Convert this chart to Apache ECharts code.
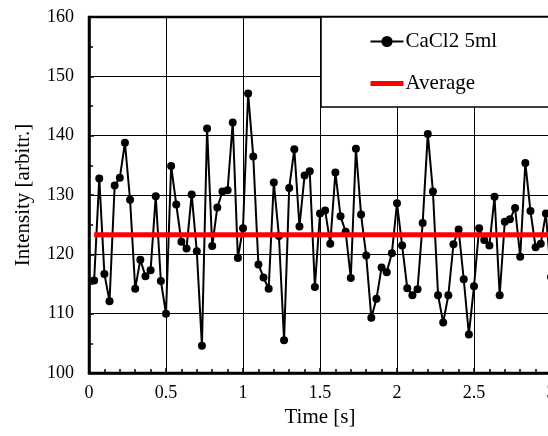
<!DOCTYPE html>
<html>
<head>
<meta charset="utf-8">
<script src="https://cdn.jsdelivr.net/npm/echarts@6/dist/echarts.min.js"></script>
<style>
html,body{margin:0;padding:0;background:#fff;}
#chart{width:548px;height:436px;}
</style>
</head>
<body>
<div id="chart"></div>
<script>
var seriesName = 'CaCl2 5ml';
var avgName = 'Average';
var timeValues = [
  0.0333, 0.0667, 0.1, 0.1333, 0.1667, 0.2, 0.2333, 0.2667, 0.3, 0.3333,
  0.3667, 0.4, 0.4333, 0.4667, 0.5, 0.5333, 0.5667, 0.6, 0.6333, 0.6667,
  0.7, 0.7333, 0.7667, 0.8, 0.8333, 0.8667, 0.9, 0.9333, 0.9667, 1.0,
  1.0333, 1.0667, 1.1, 1.1333, 1.1667, 1.2, 1.2333, 1.2667, 1.3, 1.3333,
  1.3667, 1.4, 1.4333, 1.4667, 1.5, 1.5333, 1.5667, 1.6, 1.6333, 1.6667,
  1.7, 1.7333, 1.7667, 1.8, 1.8333, 1.8667, 1.9, 1.9333, 1.9667, 2.0,
  2.0333, 2.0667, 2.1, 2.1333, 2.1667, 2.2, 2.2333, 2.2667, 2.3, 2.3333,
  2.3667, 2.4, 2.4333, 2.4667, 2.5, 2.5333, 2.5667, 2.6, 2.6333, 2.6667,
  2.7, 2.7333, 2.7667, 2.8, 2.8333, 2.8667, 2.9, 2.9333, 2.9667, 3.0
];
var intensityValues = [
  115.6, 132.8, 116.7, 112.1, 131.6, 132.9, 138.8, 129.2, 114.2, 119.1,
  116.3, 117.3, 129.8, 115.5, 110.0, 134.9, 128.4, 122.1, 121.0, 130.1,
  120.5, 104.6, 141.2, 121.4, 127.9, 130.6, 130.8, 142.2, 119.4, 124.4,
  147.1, 136.5, 118.3, 116.1, 114.2, 132.1, 123.1, 105.5, 131.2, 137.7,
  124.7, 133.3, 134.0, 114.5, 126.9, 127.4, 121.8, 133.8, 126.4, 123.8,
  116.0, 137.8, 126.7, 119.8, 109.3, 112.5, 117.8, 117.0, 120.2, 128.6,
  121.5, 114.3, 113.1, 114.1, 125.3, 140.3, 130.6, 113.1, 108.5, 113.1,
  121.7, 124.2, 115.8, 106.5, 114.6, 124.4, 122.4, 121.5, 129.7, 113.1,
  125.5, 125.9, 127.8, 119.6, 135.4, 127.3, 121.2, 121.8, 126.9, 116.2
];
var avgTimes = [0.0333, 3.0];
var avgValues = [123.3, 123.3];

var mainData = timeValues.map(function (t, i) { return [t, intensityValues[i]]; });
var avgData = avgTimes.map(function (t, i) { return [t, avgValues[i]]; });

var font = 'Liberation Serif, Times New Roman, serif';
var chart = echarts.init(document.getElementById('chart'), null, {renderer: 'canvas'});
chart.setOption({
  animation: false,
  backgroundColor: '#fff',
  textStyle: {fontFamily: font, color: '#000'},
  grid: {
    left: 89, top: 17, right: -3, bottom: 63,
    show: true, borderColor: '#000', borderWidth: 2.5, backgroundColor: 'transparent',
    containLabel: false,
    outerBoundsMode: 'none'
  },
  legend: {
    data: [
      {name: seriesName},
      {name: avgName, itemStyle: {opacity: 0}, lineStyle: {width: 5, color: '#ff0000'}}
    ],
    orient: 'vertical',
    left: 321, top: 17,
    padding: [14, 60, 13, 47],
    itemGap: 21,
    itemWidth: 33, itemHeight: 14,
    backgroundColor: '#fff',
    borderColor: '#000', borderWidth: 1.5,
    textStyle: {fontFamily: font, fontSize: 21, color: '#000', padding: [0, 0, 0, -3]}
  },
  xAxis: {
    type: 'value', min: 0, max: 3, interval: 0.5,
    name: 'Time [s]', nameLocation: 'middle', nameGap: 30,
    nameTextStyle: {fontFamily: font, fontSize: 21, color: '#000'},
    axisLine: {show: true, onZero: false, lineStyle: {color: '#000', width: 2.5}},
    axisTick: {show: true, inside: true, length: 5, lineStyle: {color: '#000', width: 1.5}},
    minorTick: {show: true, splitNumber: 5, length: 4, lineStyle: {color: '#000', width: 1.5}},
    axisLabel: {fontFamily: font, fontSize: 18, color: '#000', margin: 11, showMaxLabel: true},
    splitLine: {show: true, lineStyle: {color: '#000', width: 1}}
  },
  yAxis: {
    type: 'value', min: 100, max: 160, interval: 10,
    name: 'Intensity [arbitr.]', nameLocation: 'middle', nameGap: 55,
    nameTextStyle: {fontFamily: font, fontSize: 21, color: '#000'},
    axisLine: {show: true, onZero: false, lineStyle: {color: '#000', width: 2.5}},
    axisTick: {show: true, inside: true, length: 5, lineStyle: {color: '#000', width: 1.5}},
    minorTick: {show: true, splitNumber: 2, length: 4, lineStyle: {color: '#000', width: 1.5}},
    axisLabel: {fontFamily: font, fontSize: 18, color: '#000', margin: 15},
    splitLine: {show: true, lineStyle: {color: '#000', width: 1}}
  },
  series: [
    {
      name: seriesName, type: 'line', data: mainData,
      symbol: 'circle', symbolSize: 8, showSymbol: true,
      itemStyle: {color: '#000'},
      lineStyle: {color: '#000', width: 2},
      z: 3
    },
    {
      name: avgName, type: 'line', data: avgData,
      symbol: 'none',
      itemStyle: {color: '#ff0000'},
      lineStyle: {color: '#ff0000', width: 5},
      z: 4
    }
  ]
});
</script>
</body>
</html>
